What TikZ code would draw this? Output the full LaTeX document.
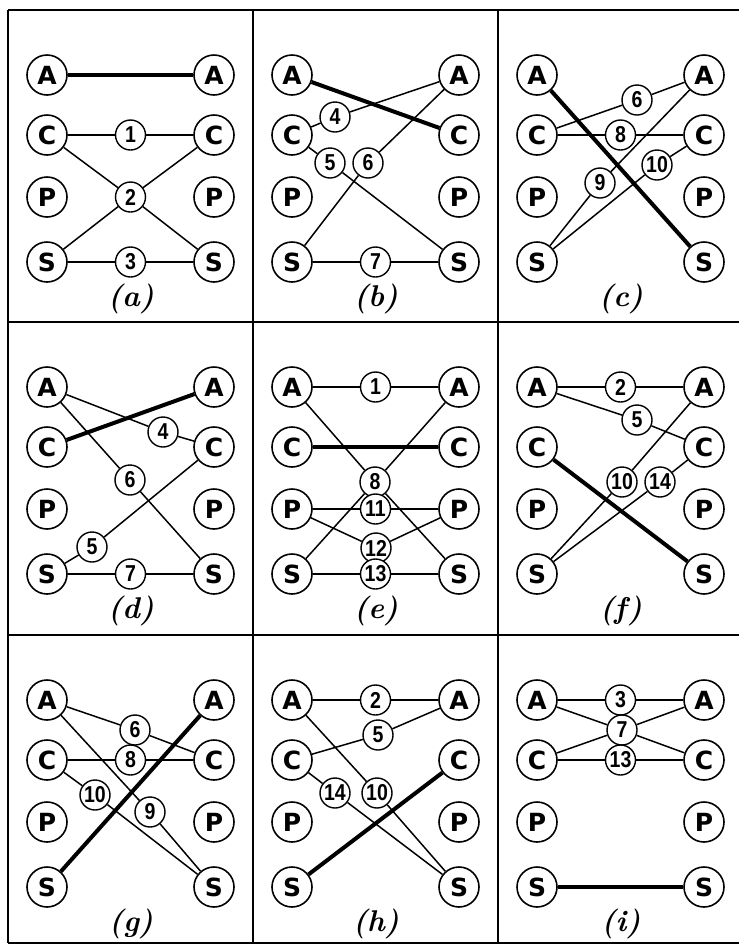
\documentclass[tikz,border=0pt]{standalone}
\usepackage{fontspec}
\newfontfamily\stnfont{DejaVu Sans}
\newfontfamily\numfont[FakeStretch=0.85]{Liberation Sans}
\usetikzlibrary{calc}

\tikzset{
  stn/.style={circle,draw,line width=1.6pt,inner sep=0pt,minimum size=40pt,
    font=\stnfont\bfseries\fontsize{25}{25}\selectfont},
  num/.style={circle,draw,fill=white,line width=1.4pt,inner sep=0pt,minimum size=30pt,
    font=\numfont\bfseries\fontsize{23}{23}\selectfont},
  ln/.style={line width=1.5pt},
  hv/.style={line width=4pt},
  frm/.style={line width=2.6pt},
  lab/.style={font=\fontsize{30}{30}\selectfont\bfseries\itshape},
}

\begin{document}
\begin{tikzpicture}[x=1pt,y=-1pt]
  \useasboundingbox (0,0) rectangle (739,946);
  % frame
  \draw[frm] (8,10) -- (739,10);
  \draw[frm] (8,322) -- (739,322);
  \draw[frm] (8,635) -- (739,635);
  \draw[frm] (8,943) -- (739,943);
  \draw[frm] (8,10) -- (8,943);
  \draw[frm] (253,10) -- (253,943);
  \draw[frm] (498,10) -- (498,943);

  % the four stations on both sides of every panel
  \foreach \p/\ox/\oy in {a/8/10,b/253/10,c/498/10,d/8/322,e/253/322,f/498/322,g/8/635,h/253/635,i/498/635}{
    \foreach \r/\ry in {A/65,C/125,P/187,S/252}{
      \node[stn] (\p\r1) at (\ox+39,\oy+\ry) {\r};
      \node[stn] (\p\r2) at (\ox+206,\oy+\ry) {\r};
    }
    \node[lab] (lab\p) at (\ox+123,\oy+289) {(\p)};
  }

  % (a)
  \node[num] (a1) at ($(aC1)!.5!(aC2)$) {1};
  \node[num] (a2) at ($(aP1)!.5!(aP2)$) {2};
  \node[num] (a3) at ($(aS1)!.5!(aS2)$) {3};
  \draw[hv] (aA1) -- (aA2);
  \draw[ln] (aC1) -- (a1) -- (aC2);
  \draw[ln] (aC1) -- (a2) -- (aS2);
  \draw[ln] (aS1) -- (a2) -- (aC2);
  \draw[ln] (aS1) -- (a3) -- (aS2);

  % (b)
  \node[num] (b4) at (335,117) {4};
  \node[num] (b5) at (330,163) {5};
  \node[num] (b6) at (368,163) {6};
  \node[num] (b7) at ($(bS1)!.5!(bS2)$) {7};
  \draw[hv] (bA1) -- (bC2);
  \draw[ln] (bC1) -- (b4) -- (bA2);
  \draw[ln] (bC1) -- (b5) -- (bS2);
  \draw[ln] (bS1) -- (b6) -- (bA2);
  \draw[ln] (bS1) -- (b7) -- (bS2);

  % (c)
  \node[num] (c6) at (637,100) {6};
  \node[num] (c8) at ($(cC1)!.5!(cC2)$) {8};
  \node[num] (c9) at (600,183) {9};
  \node[num] (c10) at (657,165) {10};
  \draw[hv] (cA1) -- (cS2);
  \draw[ln] (cC1) -- (c6) -- (cA2);
  \draw[ln] (cC1) -- (c8) -- (cC2);
  \draw[ln] (cS1) -- (c9) -- (cA2);
  \draw[ln] (cS1) -- (c10) -- (cC2);

  % (d)
  \node[num] (d4) at (163,432) {4};
  \node[num] (d6) at (130,480) {6};
  \node[num] (d5) at (92,547) {5};
  \node[num] (d7) at ($(dS1)!.5!(dS2)$) {7};
  \draw[hv] (dC1) -- (dA2);
  \draw[ln] (dA1) -- (d4) -- (dC2);
  \draw[ln] (dA1) -- (d6) -- (dS2);
  \draw[ln] (dS1) -- (d5) -- (dC2);
  \draw[ln] (dS1) -- (d7) -- (dS2);

  % (e)
  \node[num] (e1) at ($(eA1)!.5!(eA2)$) {1};
  \node[num] (e8) at (375,482) {8};
  \node[num] (e11) at ($(eP1)!.5!(eP2)$) {11};
  \node[num] (e12) at (376,548) {12};
  \node[num] (e13) at ($(eS1)!.5!(eS2)$) {13};
  \draw[ln] (eA1) -- (e1) -- (eA2);
  \draw[hv] (eC1) -- (eC2);
  \draw[ln] (eA1) -- (e8) -- (eS2);
  \draw[ln] (eS1) -- (e8) -- (eA2);
  \draw[ln] (eP1) -- (e11) -- (eP2);
  \draw[ln] (eP1) -- (e12) -- (eP2);
  \draw[ln] (eS1) -- (e13) -- (eS2);

  % (f)
  \node[num] (f2) at ($(fA1)!.5!(fA2)$) {2};
  \node[num] (f5) at (637,420) {5};
  \node[num] (f10) at (622,482) {10};
  \node[num] (f14) at (660,482) {14};
  \draw[ln] (fA1) -- (f2) -- (fA2);
  \draw[ln] (fA1) -- (f5) -- (fC2);
  \draw[hv] (fC1) -- (fS2);
  \draw[ln] (fS1) -- (f10) -- (fA2);
  \draw[ln] (fS1) -- (f14) -- (fC2);

  % (g)
  \node[num] (g6) at (135,730) {6};
  \node[num] (g8) at ($(gC1)!.5!(gC2)$) {8};
  \node[num] (g10) at (95,795) {10};
  \node[num] (g9) at (150,812) {9};
  \draw[hv] (gS1) -- (gA2);
  \draw[ln] (gA1) -- (g6) -- (gC2);
  \draw[ln] (gC1) -- (g8) -- (gC2);
  \draw[ln] (gC1) -- (g10) -- (gS2);
  \draw[ln] (gA1) -- (g9) -- (gS2);

  % (h)
  \node[num] (h2) at ($(hA1)!.5!(hA2)$) {2};
  \node[num] (h5) at (378,735) {5};
  \node[num] (h14) at (335,793) {14};
  \node[num] (h10) at (377,793) {10};
  \draw[ln] (hA1) -- (h2) -- (hA2);
  \draw[ln] (hC1) -- (h5) -- (hA2);
  \draw[hv] (hS1) -- (hC2);
  \draw[ln] (hC1) -- (h14) -- (hS2);
  \draw[ln] (hA1) -- (h10) -- (hS2);

  % (i)
  \node[num] (i3) at ($(iA1)!.5!(iA2)$) {3};
  \node[num] (i7) at (622,730) {7};
  \node[num] (i13) at ($(iC1)!.5!(iC2)$) {13};
  \draw[ln] (iA1) -- (i3) -- (iA2);
  \draw[ln] (iA1) -- (i7) -- (iC2);
  \draw[ln] (iC1) -- (i7) -- (iA2);
  \draw[ln] (iC1) -- (i13) -- (iC2);
  \draw[hv] (iS1) -- (iS2);
\end{tikzpicture}
\end{document}
